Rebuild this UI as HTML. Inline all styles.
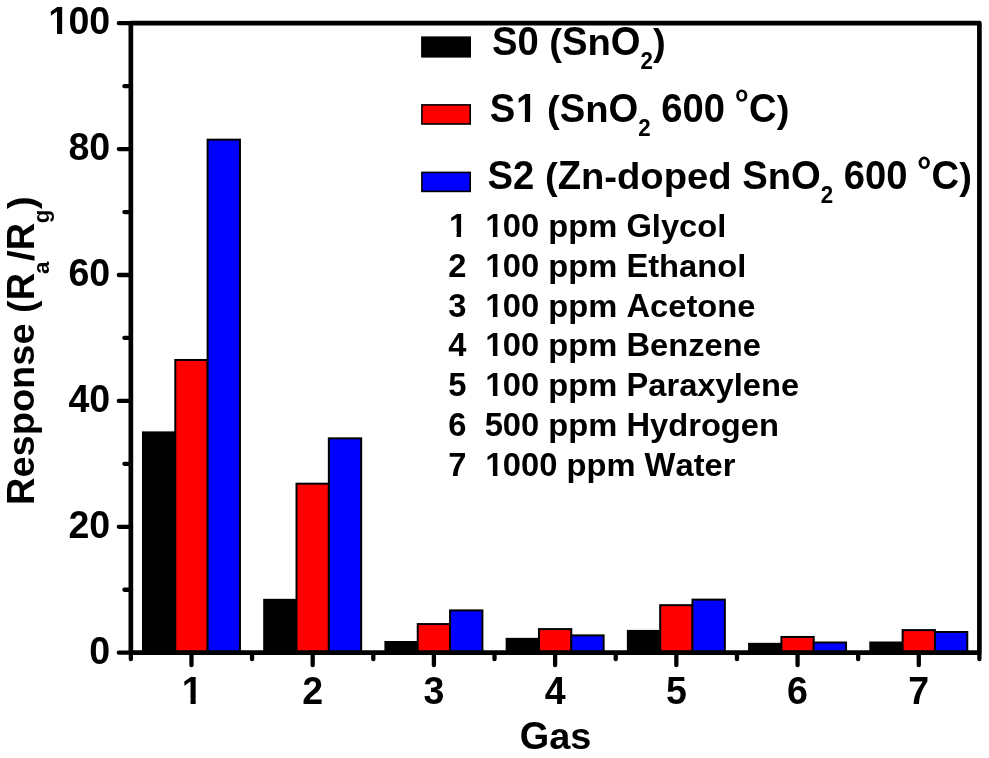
<!DOCTYPE html>
<html><head><meta charset="utf-8"><title>chart</title>
<style>html,body{margin:0;padding:0;background:#fff}svg{display:block}text{font-family:"Liberation Sans",sans-serif;font-weight:bold;fill:#000;font-kerning:none;filter:grayscale(1)}</style></head>
<body>
<svg width="989" height="758" viewBox="0 0 989 758">
<rect width="989" height="758" fill="#fff"/>
<g stroke="#000" stroke-width="2">
<rect x="142.97" y="432.38" width="32.33" height="220.32" fill="#000000"/>
<rect x="175.30" y="359.98" width="32.33" height="292.72" fill="#ff0000"/>
<rect x="207.62" y="139.66" width="32.33" height="513.04" fill="#0000ff"/>
<rect x="264.19" y="599.82" width="32.33" height="52.88" fill="#000000"/>
<rect x="296.52" y="483.68" width="32.33" height="169.02" fill="#ff0000"/>
<rect x="328.84" y="438.36" width="32.33" height="214.34" fill="#0000ff"/>
<rect x="385.41" y="642.00" width="32.33" height="10.70" fill="#000000"/>
<rect x="417.74" y="624.06" width="32.33" height="28.64" fill="#ff0000"/>
<rect x="450.07" y="610.40" width="32.33" height="42.30" fill="#0000ff"/>
<rect x="506.64" y="638.85" width="32.33" height="13.85" fill="#000000"/>
<rect x="538.96" y="629.09" width="32.33" height="23.61" fill="#ff0000"/>
<rect x="571.29" y="635.39" width="32.33" height="17.31" fill="#0000ff"/>
<rect x="627.86" y="630.92" width="32.33" height="21.78" fill="#000000"/>
<rect x="660.18" y="605.17" width="32.33" height="47.53" fill="#ff0000"/>
<rect x="692.51" y="599.63" width="32.33" height="53.07" fill="#0000ff"/>
<rect x="749.08" y="643.82" width="32.33" height="8.88" fill="#000000"/>
<rect x="781.40" y="636.96" width="32.33" height="15.74" fill="#ff0000"/>
<rect x="813.73" y="642.50" width="32.33" height="10.20" fill="#0000ff"/>
<rect x="870.30" y="642.50" width="32.33" height="10.20" fill="#000000"/>
<rect x="902.63" y="630.10" width="32.33" height="22.60" fill="#ff0000"/>
<rect x="934.95" y="631.99" width="32.33" height="20.71" fill="#0000ff"/>
</g>
<g stroke="#000" stroke-width="4.7" stroke-linecap="round" fill="none">
<path d="M130.85 23.20 H979.40 M130.85 652.70 H979.40 M130.85 23.20 V652.70 M979.40 23.20 V652.70"/>
<path stroke-width="4.3" d="M129.35 652.70 H118.80 M129.35 589.75 H124.40 M129.35 526.80 H118.80 M129.35 463.85 H124.40 M129.35 400.90 H118.80 M129.35 337.95 H124.40 M129.35 275.00 H118.80 M129.35 212.05 H124.40 M129.35 149.10 H118.80 M129.35 86.15 H124.40 M129.35 23.20 H118.80 M130.85 654.20 V659.15 M191.46 654.20 V665.15 M252.07 654.20 V659.15 M312.68 654.20 V665.15 M373.29 654.20 V659.15 M433.90 654.20 V665.15 M494.51 654.20 V659.15 M555.12 654.20 V665.15 M615.74 654.20 V659.15 M676.35 654.20 V665.15 M736.96 654.20 V659.15 M797.57 654.20 V665.15 M858.18 654.20 V659.15 M918.79 654.20 V665.15 M979.40 654.20 V659.15"/>
</g>
<text font-size="38.80" transform="translate(89.31 663.50) scale(0.9680 1)">0</text>
<text font-size="38.80" transform="translate(68.42 537.60) scale(0.9680 1)">20</text>
<text font-size="38.80" transform="translate(68.42 411.70) scale(0.9680 1)">40</text>
<text font-size="38.80" transform="translate(68.42 285.80) scale(0.9680 1)">60</text>
<text font-size="38.80" transform="translate(68.42 159.90) scale(0.9680 1)">80</text>
<text font-size="38.80" transform="translate(48.28 34.00) scale(0.9680 1)">1</text>
<text font-size="38.80" transform="translate(68.42 34.00) scale(0.9680 1)">00</text>
<g fill="#fff"><path d="M49.85 34.80H57.05V28.64H49.85Z M62.20 34.80H68.93V28.64H62.20Z"/></g>
<text font-size="38.80" transform="translate(181.77 703.80) scale(0.9680 1)">1</text>
<g fill="#fff"><path d="M183.33 704.60H190.53V698.44H183.33Z M195.69 704.60H202.41V698.44H195.69Z"/></g>
<text font-size="38.80" transform="translate(302.24 703.80) scale(0.9680 1)">2</text>
<text font-size="38.80" transform="translate(423.46 703.80) scale(0.9680 1)">3</text>
<text font-size="38.80" transform="translate(544.68 703.80) scale(0.9680 1)">4</text>
<text font-size="38.80" transform="translate(665.90 703.80) scale(0.9680 1)">5</text>
<text font-size="38.80" transform="translate(787.12 703.80) scale(0.9680 1)">6</text>
<text font-size="38.80" transform="translate(908.34 703.80) scale(0.9680 1)">7</text>
<text font-size="39.42" transform="translate(519.68 749.30) scale(0.9615 1)">G</text>
<text font-size="37.26" transform="translate(549.16 749.30) scale(1.0173 1)">as</text>
<g transform="translate(34.2 505) rotate(-90)">
<text font-size="39.52" transform="translate(0.00 0.00) scale(0.9615 1)">R</text>
<text font-size="37.35" transform="translate(27.44 0.00) scale(1.0173 1)">esponse&#160;(</text>
<text font-size="39.52" transform="translate(204.83 0.00) scale(0.9615 1)">R</text>
<text font-size="21.92" transform="translate(231.07 15.20) scale(1.0173 1)">a</text>
<text font-size="37.35" transform="translate(244.07 0.00) scale(1.0173 1)">/</text>
<text font-size="39.52" transform="translate(254.63 0.00) scale(0.9615 1)">R</text>
<text font-size="21.92" transform="translate(281.67 15.20) scale(1.0173 1)">g</text>
<text font-size="37.35" transform="translate(295.99 0.00) scale(1.0173 1)">)</text>
</g>
<g stroke="#000" stroke-width="1.6">
<rect x="421.9" y="37.2" width="48.3" height="19.6" fill="#000000"/>
<rect x="421.9" y="104.9" width="48.3" height="19.1" fill="#ff0000"/>
<rect x="421.9" y="172.4" width="48.3" height="19.0" fill="#0000ff"/>
</g>
<text font-size="39.73" transform="translate(492.00 54.70) scale(0.9615 1)">S0</text>
<text font-size="37.55" transform="translate(538.72 54.70) scale(1.0173 1)">&#160;(</text>
<text font-size="39.73" transform="translate(562.06 54.70) scale(0.9615 1)">S</text>
<text font-size="37.55" transform="translate(587.54 54.70) scale(1.0173 1)">n</text>
<text font-size="39.73" transform="translate(610.87 54.70) scale(0.9615 1)">O</text>
<text font-size="23.19" transform="translate(640.58 68.90) scale(0.9615 1)">2</text>
<text font-size="37.55" transform="translate(652.99 54.70) scale(1.0173 1)">)</text>
<text font-size="39.73" transform="translate(489.70 121.60) scale(0.9615 1)">S</text>
<text font-size="39.73" transform="translate(515.94 121.60) scale(0.9615 1)">1</text>
<text font-size="37.55" transform="translate(536.42 121.60) scale(1.0173 1)">&#160;(</text>
<text font-size="39.73" transform="translate(559.76 121.60) scale(0.9615 1)">S</text>
<text font-size="37.55" transform="translate(585.24 121.60) scale(1.0173 1)">n</text>
<text font-size="39.73" transform="translate(608.57 121.60) scale(0.9615 1)">O</text>
<g fill="#fff"><path d="M517.55 122.40H524.86V116.15H517.55Z M530.10 122.40H536.92V116.15H530.10Z"/></g>
<text font-size="23.19" transform="translate(638.28 135.80) scale(0.9615 1)">2</text>
<text font-size="39.73" transform="translate(661.30 121.60) scale(0.9615 1)">600</text>
<path fill-rule="evenodd" d="M736.10 95.60 a5.65 6.2 0 1 0 11.3 0 a5.65 6.2 0 1 0 -11.3 0 Z M739.05 95.60 a2.7 3.65 0 1 0 5.4 0 a2.7 3.65 0 1 0 -5.4 0 Z"/>
<text font-size="39.73" transform="translate(749.09 121.60) scale(0.9615 1)">C</text>
<text font-size="37.55" transform="translate(776.68 121.60) scale(1.0173 1)">)</text>
<text font-size="39.73" transform="translate(487.60 188.80) scale(0.9615 1)">S2</text>
<text font-size="37.55" transform="translate(534.32 188.80) scale(1.0173 1)">&#160;(</text>
<text font-size="39.73" transform="translate(557.66 188.80) scale(0.9615 1)">Z</text>
<text font-size="37.55" transform="translate(580.99 188.80) scale(1.0173 1)">n-doped&#160;</text>
<text font-size="39.73" transform="translate(742.24 188.80) scale(0.9615 1)">S</text>
<text font-size="37.55" transform="translate(767.72 188.80) scale(1.0173 1)">n</text>
<text font-size="39.73" transform="translate(791.05 188.80) scale(0.9615 1)">O</text>
<text font-size="23.19" transform="translate(820.77 203.00) scale(0.9615 1)">2</text>
<text font-size="39.73" transform="translate(843.78 188.80) scale(0.9615 1)">600</text>
<path fill-rule="evenodd" d="M918.58 162.80 a5.65 6.2 0 1 0 11.3 0 a5.65 6.2 0 1 0 -11.3 0 Z M921.53 162.80 a2.7 3.65 0 1 0 5.4 0 a2.7 3.65 0 1 0 -5.4 0 Z"/>
<text font-size="39.73" transform="translate(931.57 188.80) scale(0.9615 1)">C</text>
<text font-size="37.55" transform="translate(959.16 188.80) scale(1.0173 1)">)</text>
<text font-size="33.10" transform="translate(448.95 237.00) scale(0.9879 1)">1</text>
<text font-size="33.10" transform="translate(485.31 237.00) scale(0.9879 1)">1</text>
<text font-size="33.10" transform="translate(502.84 237.00) scale(0.9879 1)">00</text>
<text font-size="31.80" transform="translate(539.21 237.00) scale(1.0283 1)">&#160;ppm&#160;</text>
<text font-size="33.10" transform="translate(626.41 237.00) scale(0.9879 1)">G</text>
<text font-size="31.80" transform="translate(651.84 237.00) scale(1.0283 1)">lycol</text>
<g fill="#fff"><path d="M450.21 237.80H456.59V232.22H450.21Z M461.07 237.80H467.03V232.22H461.07Z"/><path d="M486.57 237.80H492.94V232.22H486.57Z M497.43 237.80H503.39V232.22H497.43Z"/></g>
<text font-size="33.10" transform="translate(448.30 276.82) scale(0.9879 1)">2</text>
<text font-size="33.10" transform="translate(485.31 276.82) scale(0.9879 1)">1</text>
<text font-size="33.10" transform="translate(502.84 276.82) scale(0.9879 1)">00</text>
<text font-size="31.80" transform="translate(539.21 276.82) scale(1.0283 1)">&#160;ppm&#160;</text>
<text font-size="33.10" transform="translate(626.41 276.82) scale(0.9879 1)">E</text>
<text font-size="31.80" transform="translate(648.22 276.82) scale(1.0283 1)">thanol</text>
<g fill="#fff"><path d="M486.57 277.62H492.94V272.04H486.57Z M497.43 277.62H503.39V272.04H497.43Z"/></g>
<text font-size="33.10" transform="translate(448.30 316.64) scale(0.9879 1)">3</text>
<text font-size="33.10" transform="translate(485.31 316.64) scale(0.9879 1)">1</text>
<text font-size="33.10" transform="translate(502.84 316.64) scale(0.9879 1)">00</text>
<text font-size="31.80" transform="translate(539.21 316.64) scale(1.0283 1)">&#160;ppm&#160;</text>
<text font-size="33.10" transform="translate(626.41 316.64) scale(0.9879 1)">A</text>
<text font-size="31.80" transform="translate(650.02 316.64) scale(1.0283 1)">cetone</text>
<g fill="#fff"><path d="M486.57 317.44H492.94V311.86H486.57Z M497.43 317.44H503.39V311.86H497.43Z"/></g>
<text font-size="33.10" transform="translate(448.30 356.46) scale(0.9879 1)">4</text>
<text font-size="33.10" transform="translate(485.31 356.46) scale(0.9879 1)">1</text>
<text font-size="33.10" transform="translate(502.84 356.46) scale(0.9879 1)">00</text>
<text font-size="31.80" transform="translate(539.21 356.46) scale(1.0283 1)">&#160;ppm&#160;</text>
<text font-size="33.10" transform="translate(626.41 356.46) scale(0.9879 1)">B</text>
<text font-size="31.80" transform="translate(650.02 356.46) scale(1.0283 1)">enzene</text>
<g fill="#fff"><path d="M486.57 357.26H492.94V351.68H486.57Z M497.43 357.26H503.39V351.68H497.43Z"/></g>
<text font-size="33.10" transform="translate(448.30 396.28) scale(0.9879 1)">5</text>
<text font-size="33.10" transform="translate(485.31 396.28) scale(0.9879 1)">1</text>
<text font-size="33.10" transform="translate(502.84 396.28) scale(0.9879 1)">00</text>
<text font-size="31.80" transform="translate(539.21 396.28) scale(1.0283 1)">&#160;ppm&#160;</text>
<text font-size="33.10" transform="translate(626.41 396.28) scale(0.9879 1)">P</text>
<text font-size="31.80" transform="translate(648.22 396.28) scale(1.0283 1)">araxylene</text>
<g fill="#fff"><path d="M486.57 397.08H492.94V391.50H486.57Z M497.43 397.08H503.39V391.50H497.43Z"/></g>
<text font-size="33.10" transform="translate(448.30 436.10) scale(0.9879 1)">6</text>
<text font-size="33.10" transform="translate(484.66 436.10) scale(0.9879 1)">500</text>
<text font-size="31.80" transform="translate(539.21 436.10) scale(1.0283 1)">&#160;ppm&#160;</text>
<text font-size="33.10" transform="translate(626.41 436.10) scale(0.9879 1)">H</text>
<text font-size="31.80" transform="translate(650.02 436.10) scale(1.0283 1)">ydrogen</text>
<text font-size="33.10" transform="translate(448.30 475.92) scale(0.9879 1)">7</text>
<text font-size="33.10" transform="translate(485.31 475.92) scale(0.9879 1)">1</text>
<text font-size="33.10" transform="translate(502.84 475.92) scale(0.9879 1)">000</text>
<text font-size="31.80" transform="translate(557.40 475.92) scale(1.0283 1)">&#160;ppm&#160;</text>
<text font-size="33.10" transform="translate(644.60 475.92) scale(0.9879 1)">W</text>
<text font-size="31.80" transform="translate(675.46 475.92) scale(1.0283 1)">ater</text>
<g fill="#fff"><path d="M486.57 476.72H492.94V471.14H486.57Z M497.43 476.72H503.39V471.14H497.43Z"/></g>
</svg>
</body></html>
